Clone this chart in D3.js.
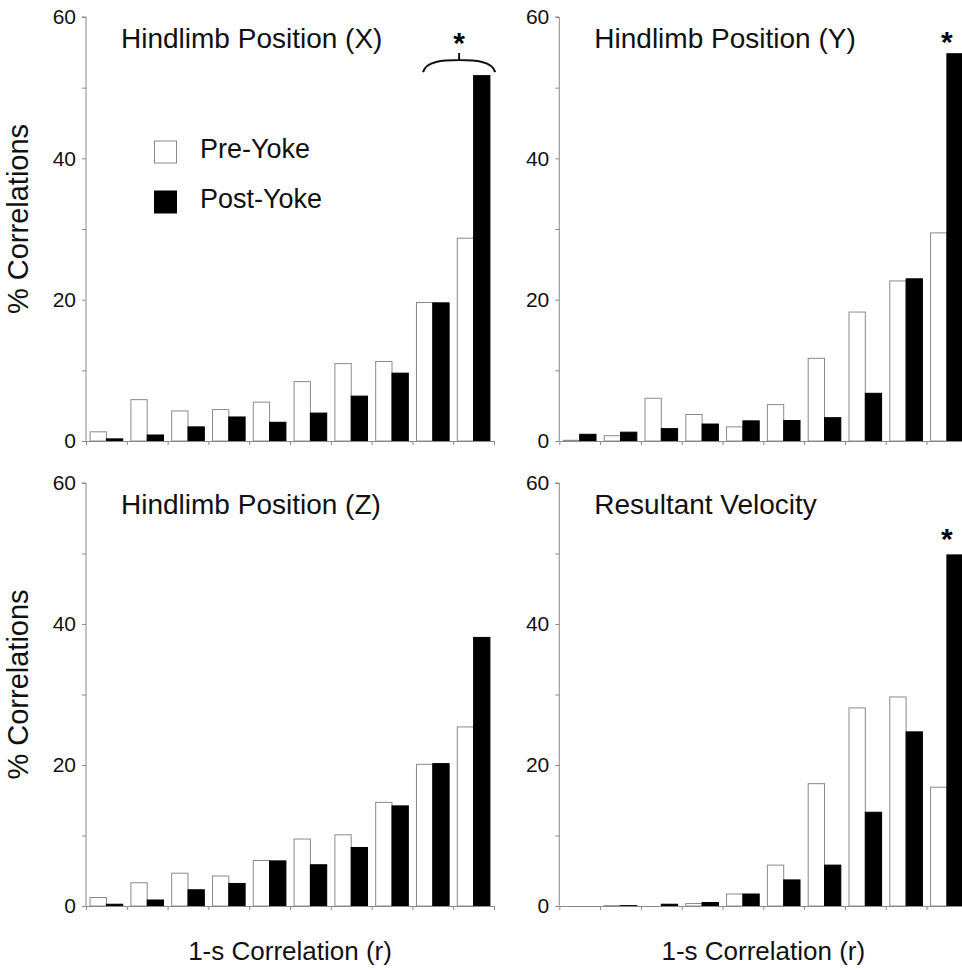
<!DOCTYPE html>
<html>
<head>
<meta charset="utf-8">
<script src="https://cdn.jsdelivr.net/npm/d3@7"></script>
<style>
  body { margin: 0; background: #fff; }
  svg { display: block; font-family: "Liberation Sans", Arial, Helvetica, sans-serif; }
</style>
</head>
<body>
<script>
// bins of 1-s correlation (r), lowest to highest
var bins = [1, 2, 3, 4, 5, 6, 7, 8, 9, 10];
var seriesNames = ["Pre-Yoke", "Post-Yoke"];

// % correlations per bin
var preX  = [1.3, 5.85, 4.25, 4.45, 5.5, 8.4, 10.95, 11.25, 19.6, 28.7];
var postX = [0.3, 0.85, 2.0, 3.4, 2.65, 3.95, 6.35, 9.6, 19.55, 51.7];
var preY  = [0.1, 0.75, 6.05, 3.75, 2.0, 5.15, 11.7, 18.25, 22.65, 29.45];
var postY = [0.95, 1.25, 1.75, 2.4, 2.85, 2.9, 3.3, 6.75, 22.95, 54.8];
var preZ  = [1.2, 3.3, 4.65, 4.25, 6.45, 9.5, 10.1, 14.7, 20.1, 25.4];
var postZ = [0.25, 0.85, 2.3, 3.2, 6.4, 5.85, 8.3, 14.2, 20.2, 38.1];
var preV  = [0, 0.05, 0, 0.35, 1.7, 5.8, 17.35, 28.1, 29.65, 16.85];
var postV = [0, 0.05, 0.25, 0.5, 1.7, 3.7, 5.8, 13.3, 24.7, 49.8];

var titles = ["Hindlimb Position (X)", "Hindlimb Position (Y)", "Hindlimb Position (Z)", "Resultant Velocity"];
var yTickValues = [0, 10, 20, 30, 40, 50, 60];
var yTickLabels = [0, 20, 40, 60];

var width = 962, height = 970;

var svg = d3.select("body")
    .append("svg")
    .attr("width", width)
    .attr("height", height);

var panels = [
  {title: titles[0], pre: preX, post: postX, left: 86,    top: 17,  bottom: 441, yLabel: true,  xLabel: false, bracket: true},
  {title: titles[1], pre: preY, post: postY, left: 559.3, top: 17,  bottom: 441, yLabel: false, xLabel: false, star: 57.4},
  {title: titles[2], pre: preZ, post: postZ, left: 86,    top: 483, bottom: 906, yLabel: true,  xLabel: true},
  {title: titles[3], pre: preV, post: postV, left: 559.3, top: 483, bottom: 906, yLabel: false, xLabel: true, star: 53}
];

var axisColor = "#8a8a8a";

panels.forEach(function(p, pi){

  var x = d3.scaleBand()
      .domain(bins)
      .range([p.left, p.left + 408])
      .paddingInner(0.2)
      .paddingOuter(0.1);

  var xSub = d3.scaleBand()
      .domain(seriesNames)
      .range([0, x.bandwidth()]);

  // linear scale for the bin edges (ticks) and annotations
  var xEdge = d3.scaleLinear()
      .domain([0, bins.length])
      .range([p.left, p.left + 408]);

  var y = d3.scaleLinear()
      .domain([0, 60])
      .range([p.bottom, p.top]);

  var g = svg.append("g");

  var rows = bins.map(function(b, i){
    return {bin: b, values: [
      {name: seriesNames[0], value: p.pre[i]},
      {name: seriesNames[1], value: p.post[i]}
    ]};
  });

  g.selectAll("g.bin")
    .data(rows)
    .join("g")
    .attr("class", "bin")
    .attr("transform", function(d){ return "translate(" + x(d.bin) + ",0)"; })
    .selectAll("rect")
    .data(function(d){ return d.values; })
    .join("rect")
    .attr("x", function(d){ return xSub(d.name); })
    .attr("y", function(d){ return y(d.value); })
    .attr("width", xSub.bandwidth())
    .attr("height", function(d){ return y(0) - y(d.value); })
    .attr("fill", function(d){ return d.name == "Pre-Yoke" ? "#fff" : "#000"; })
    .attr("stroke", function(d){ return d.name == "Pre-Yoke" ? "#8a8a8a" : "#000"; })
    .attr("stroke-width", 1);

  // y axis
  var yAxis = d3.axisLeft(y)
      .tickValues(yTickValues)
      .tickSize(4)
      .tickPadding(6)
      .tickFormat(function(d){ return yTickLabels.indexOf(d) >= 0 ? d : ""; });

  var ya = svg.append("g")
    .attr("transform", "translate(" + p.left + ",0)")
    .call(yAxis);
  ya.select(".domain").attr("stroke", axisColor).attr("d", "M0," + y(60) + "H-4M0," + y(60) + "V" + y(0));
  ya.selectAll(".tick line").attr("stroke", axisColor);
  ya.selectAll(".tick text")
    .attr("font-size", 21)
    .attr("font-family", "Liberation Sans, Arial, sans-serif")
    .attr("fill", "#111");

  // x axis (bin edges, no labels)
  var xAxis = d3.axisBottom(xEdge)
      .tickValues(d3.range(bins.length + 1))
      .tickSize(4)
      .tickSizeOuter(0)
      .tickFormat("");

  var xa = svg.append("g")
    .attr("transform", "translate(0," + p.bottom + ")")
    .call(xAxis);
  xa.select(".domain").attr("stroke", axisColor);
  xa.selectAll(".tick line").attr("stroke", axisColor);

  // panel title
  svg.append("text")
    .attr("x", p.left + 35)
    .attr("y", p.top + 31)
    .attr("font-size", 28)
    .attr("fill", "#111")
    .text(p.title);

  if (p.yLabel) {
    svg.append("text")
      .attr("transform", "translate(28," + ((p.top + p.bottom) / 2 - 10) + ") rotate(-90)")
      .attr("text-anchor", "middle")
      .attr("font-size", 29)
      .attr("fill", "#111")
      .text("% Correlations");
  }

  if (p.xLabel) {
    svg.append("text")
      .attr("x", p.left + 204)
      .attr("y", 960)
      .attr("text-anchor", "middle")
      .attr("font-size", 26)
      .attr("fill", "#111")
      .text("1-s Correlation (r)");
  }

  if (p.star) {
    svg.append("text")
      .attr("x", x(bins[9]) + x.bandwidth() / 2)
      .attr("y", y(p.star) + 17)
      .attr("text-anchor", "middle")
      .attr("font-size", 30)
      .attr("font-weight", "bold")
      .text("*");
  }

  if (p.bracket) {
    var bl = xEdge(8.26), br = xEdge(10.03), bc = (bl + br) / 2;
    var yTop = y(53.9), yEnd = y(52.2);
    var path = d3.path();
    path.moveTo(bl, yEnd);
    path.bezierCurveTo(bl + 3, yTop + 1, bc - 16, yTop, bc, yTop);
    path.bezierCurveTo(bc + 16, yTop, br - 3, yTop + 1, br, yEnd);
    path.moveTo(bc, yTop);
    path.lineTo(bc, yTop - 7);
    svg.append("path")
      .attr("d", path.toString())
      .attr("fill", "none")
      .attr("stroke", "#111")
      .attr("stroke-width", 2);
    svg.append("text")
      .attr("x", bc)
      .attr("y", y(57.3) + 17)
      .attr("text-anchor", "middle")
      .attr("font-size", 30)
      .attr("font-weight", "bold")
      .text("*");
  }

  if (pi == 0) {
    var legend = svg.append("g");
    legend.selectAll("rect")
      .data(seriesNames)
      .join("rect")
      .attr("x", 154.5)
      .attr("y", function(d, i){ return 141 + i * 50; })
      .attr("width", 22)
      .attr("height", 22)
      .attr("fill", function(d, i){ return i == 0 ? "#fff" : "#000"; })
      .attr("stroke", function(d, i){ return i == 0 ? "#8a8a8a" : "#000"; });
    legend.selectAll("text")
      .data(seriesNames)
      .join("text")
      .attr("x", 200)
      .attr("y", function(d, i){ return 158 + i * 50; })
      .attr("font-size", 27)
      .attr("fill", "#111")
      .text(function(d){ return d; });
  }
});
</script>
</body>
</html>
